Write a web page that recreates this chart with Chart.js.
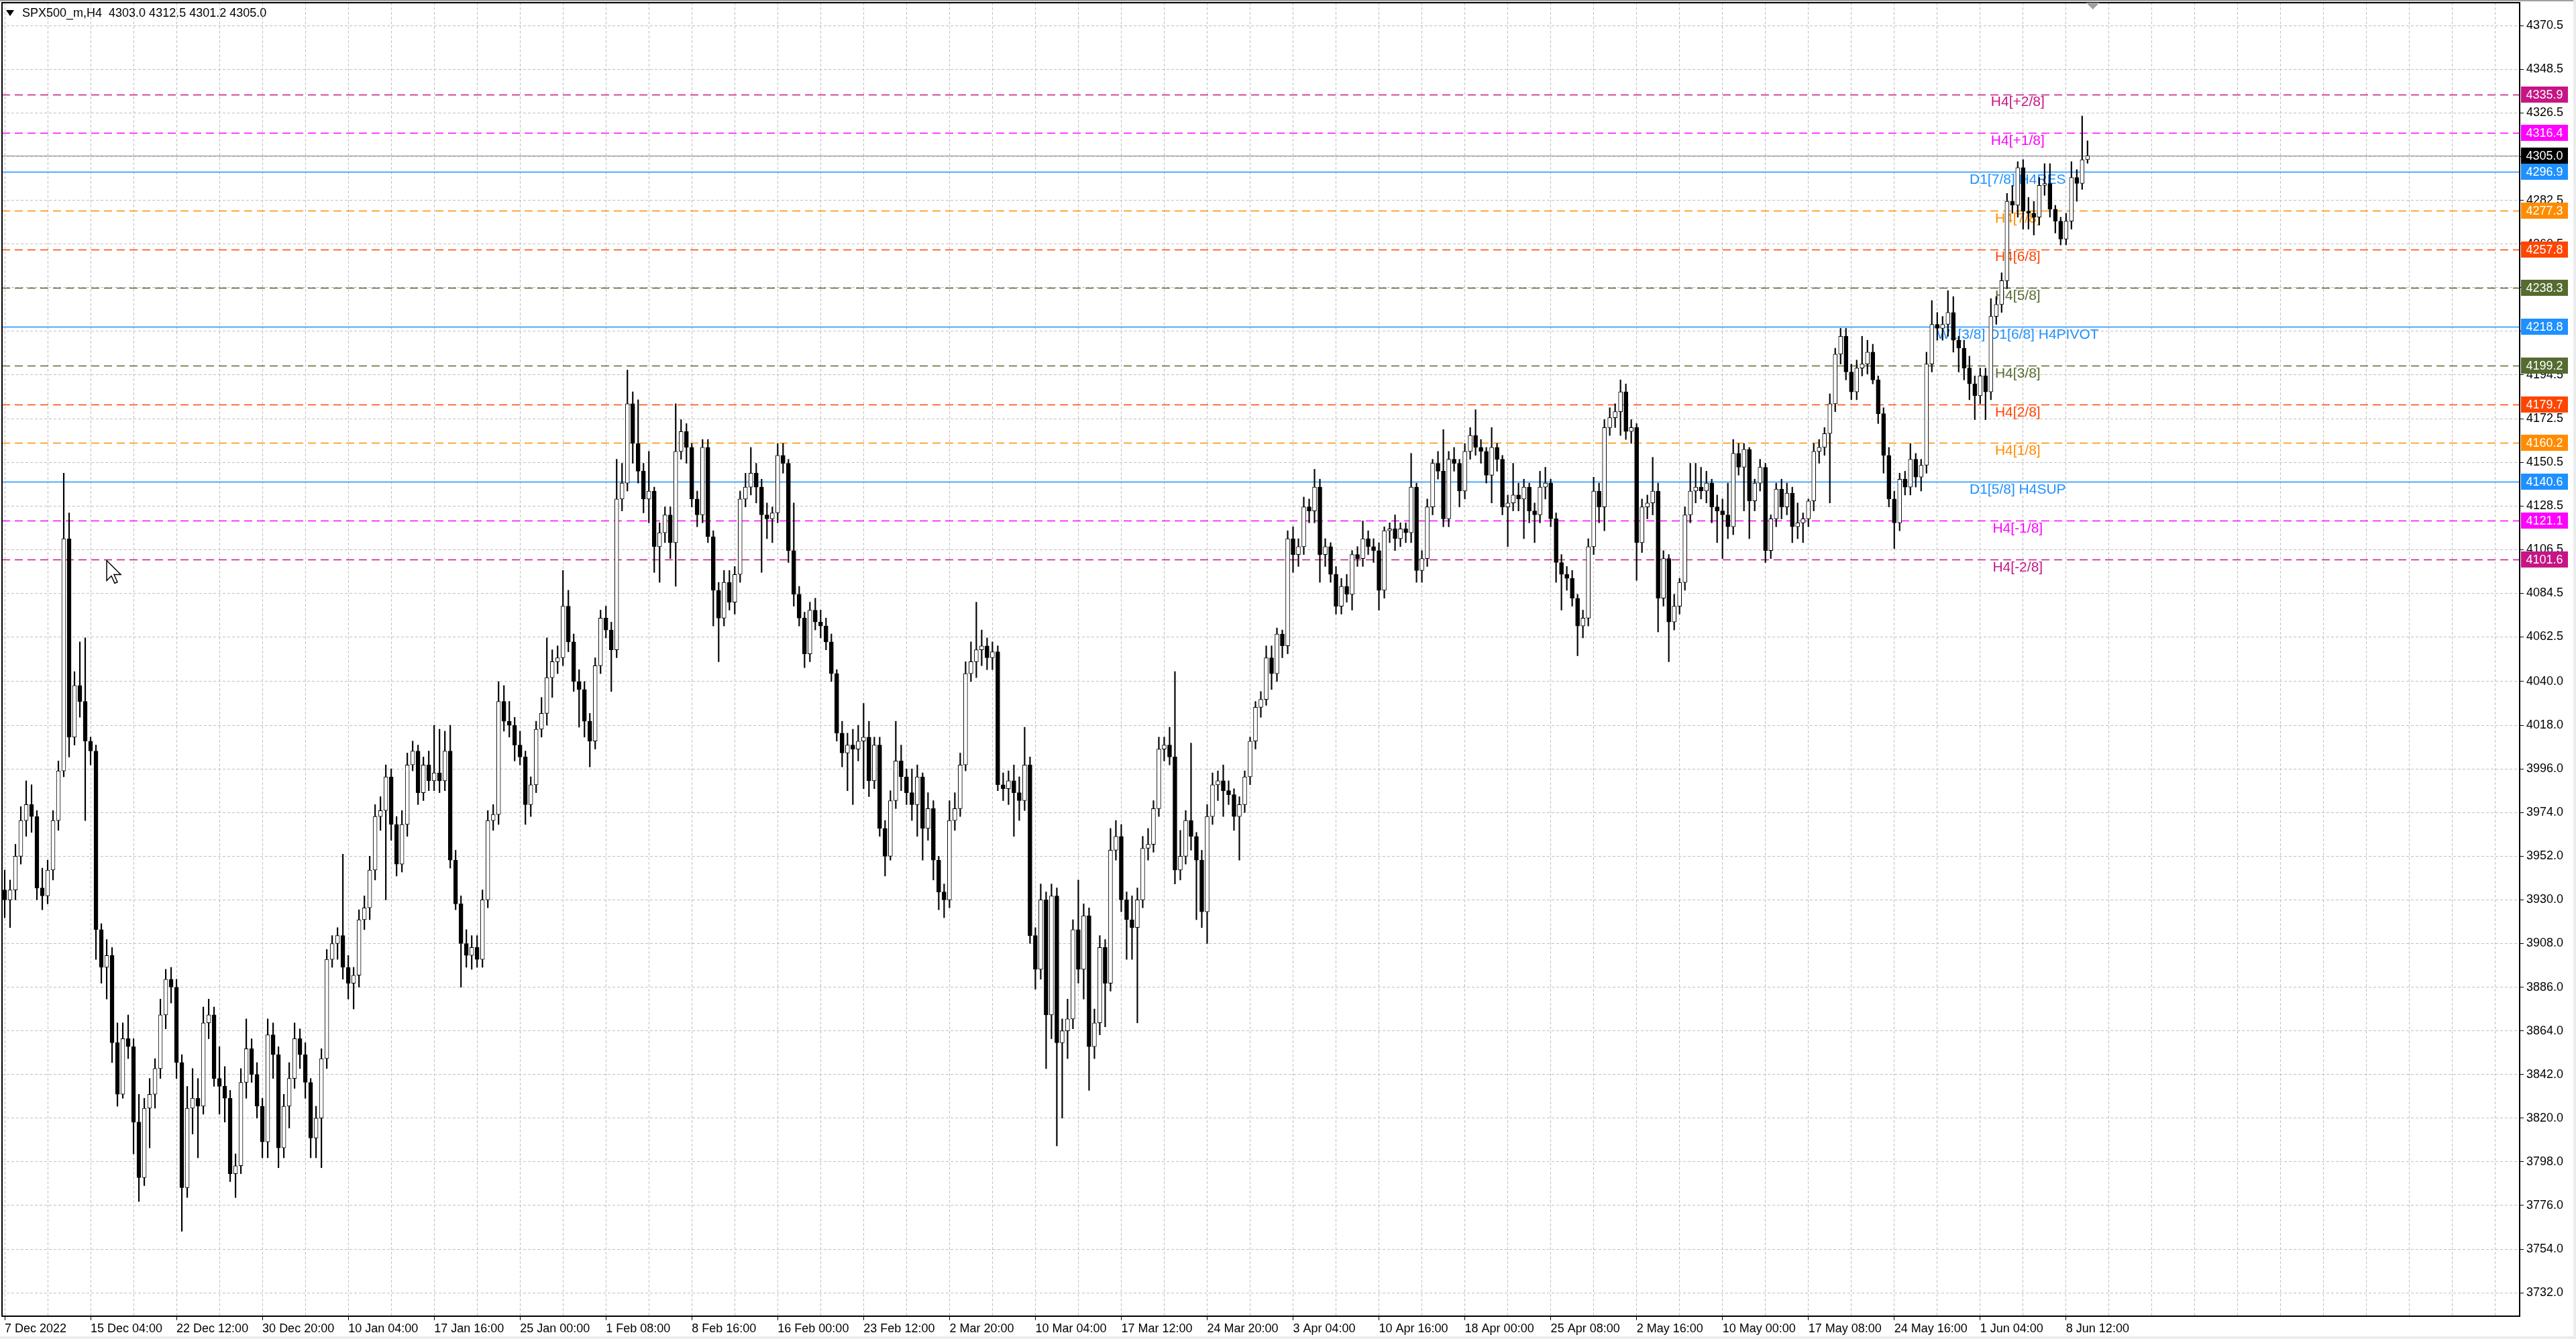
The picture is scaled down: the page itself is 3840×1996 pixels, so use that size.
<!DOCTYPE html>
<html lang="en">
<head>
<meta charset="UTF-8">
<title>SPX500_m,H4</title>
<script src="https://cdn.jsdelivr.net/npm/chart.js"></script>
<style>
    html, body { margin: 0; padding: 0; background: #fff; overflow: hidden; }
    #wrap { width: 3840px; height: 1996px; position: relative; }
</style>
</head>
<body>
<div id="wrap"><canvas id="chart" width="3840" height="1996"></canvas></div>
<script>
const symbol = 'SPX500_m,H4';

// time axis labels, one every 32 real H4 bars (16 drawn candles)
const xLabels = ['7 Dec 2022', '15 Dec 04:00', '22 Dec 12:00', '30 Dec 20:00', '10 Jan 04:00',
    '17 Jan 16:00', '25 Jan 00:00', '1 Feb 08:00', '8 Feb 16:00', '16 Feb 00:00', '23 Feb 12:00',
    '2 Mar 20:00', '10 Mar 04:00', '17 Mar 12:00', '24 Mar 20:00', '3 Apr 04:00', '10 Apr 16:00',
    '18 Apr 00:00', '25 Apr 08:00', '2 May 16:00', '10 May 00:00', '17 May 08:00', '24 May 16:00',
    '1 Jun 04:00', '8 Jun 12:00'];

// price scale ticks as printed on the right axis
const yTicks = [4370.5, 4348.5, 4326.5, 4304.5, 4282.5, 4260.5, 4238.5, 4216.5, 4194.5, 4172.5,
    4150.5, 4128.5, 4106.5, 4084.5, 4062.5, 4040.0, 4018.0, 3996.0, 3974.0, 3952.0, 3930.0, 3908.0,
    3886.0, 3864.0, 3842.0, 3820.0, 3798.0, 3776.0, 3754.0, 3732.0];

// candles
const opens = [
    3935,3930,3935,3952,3970,3978,3972,3936,3932,3945,
    3970,3995,4112,4012,4038,4030,4010,4005,3915,3896,
    3902,3858,3832,3860,3856,3818,3790,3825,3832,3845,
    3872,3890,3886,3848,3785,3825,3830,3826,3868,3872,
    3840,3836,3830,3792,3796,3838,3855,3842,3826,3808,
    3862,3852,3805,3826,3840,3860,3852,3838,3810,3820,
    3850,3900,3908,3912,3896,3888,3892,3920,3926,3945,
    3972,3975,3992,3968,3948,3968,3998,4005,3984,3998,
    3990,3994,3990,4005,3950,3928,3908,3902,3906,3900,
    3930,3970,3973,4030,4020,4018,4008,4002,3978,3988,
    4016,4024,4042,4050,4052,4078,4060,4040,4036,4020,
    4010,4048,4072,4066,4056,4132,4140,4180,4160,4146,
    4132,4136,4108,4115,4124,4110,4156,4166,4158,4132,
    4124,4158,4113,4086,4072,4090,4080,4094,4132,4138,
    4145,4138,4124,4122,4125,4154,4150,4106,4084,4072,
    4054,4076,4070,4068,4060,4044,4014,4004,4008,4006,
    4010,4012,3990,4008,3966,3952,3980,4000,3992,3984,
    3978,3992,3966,3976,3950,3934,3930,3970,3976,3998,
    4044,4050,4056,4058,4052,4055,3988,3986,3990,3984,
    3980,3998,3912,3895,3930,3872,3932,3858,3864,3870,
    3915,3895,3922,3856,3868,3906,3888,3955,3962,3930,
    3920,3916,3930,3956,3958,3976,4006,4008,4002,3945,
    3952,3970,3962,3950,3924,3972,3988,3990,3985,3983,
    3972,3978,3992,4010,4027,4031,4052,4044,4064,4058,
    4112,4104,4108,4128,4126,4138,4104,4108,4094,4078,
    4088,4084,4104,4102,4112,4108,4106,4086,4116,4117,
    4112,4117,4115,4138,4096,4102,4128,4150,4146,4122,
    4152,4150,4136,4156,4164,4158,4156,4144,4158,4152,
    4128,4130,4134,4132,4138,4126,4124,4138,4140,4122,
    4100,4094,4092,4082,4068,4072,4108,4136,4128,4168,
    4173,4176,4186,4166,4168,4110,4128,4130,4136,4082,
    4102,4070,4078,4090,4124,4136,4138,4136,4140,4128,
    4126,4124,4118,4155,4148,4157,4131,4140,4148,4106,
    4122,4137,4128,4135,4118,4120,4122,4131,4156,4158,
    4165,4180,4205,4214,4196,4186,4198,4200,4206,4192,
    4175,4154,4132,4120,4142,4138,4152,4143,4149,4200,
    4220,4218,4220,4226,4212,4208,4198,4190,4184,4194,
    4186,4224,4230,4242,4282,4280,4299,4277,4276,4274,
    4290,4291,4278,4272,4263,4272,4294,4291,4303.0];

const highs = [
    3945,3940,3958,3977,3990,3988,3975,3946,3950,3975,
    4000,4145,4125,4045,4060,4062,4012,4008,3918,3910,
    3906,3868,3868,3872,3860,3832,3830,3840,3850,3880,
    3895,3896,3890,3852,3836,3845,3840,3876,3880,3876,
    3856,3846,3834,3802,3845,3870,3860,3848,3830,3870,
    3868,3856,3832,3848,3868,3865,3858,3840,3826,3855,
    3905,3912,3916,3953,3902,3896,3925,3932,3952,3978,
    3982,3998,3996,3972,3975,4004,4010,4008,4002,4005,
    4018,4016,4015,4018,3955,3932,3915,3912,3912,3935,
    3975,3978,4040,4038,4030,4022,4015,4005,3992,4020,
    4032,4062,4056,4058,4096,4086,4064,4046,4040,4024,
    4052,4076,4078,4070,4152,4150,4197,4186,4182,4150,
    4156,4138,4120,4128,4128,4180,4172,4170,4160,4136,
    4162,4162,4116,4090,4096,4096,4098,4136,4145,4158,
    4150,4142,4130,4128,4160,4160,4152,4130,4088,4075,
    4080,4082,4076,4072,4064,4046,4020,4014,4016,4018,
    4029,4020,4012,4012,3970,3985,4020,4008,3996,3996,
    3998,3994,3984,3980,3952,3938,3980,3984,4004,4050,
    4060,4080,4066,4062,4060,4058,3994,3995,3998,3992,
    4017,4002,3916,3938,3934,3938,3936,3870,3880,3920,
    3940,3928,3926,3875,3912,3910,3966,3970,3968,3934,
    3932,3936,3962,3966,3980,4012,4012,4017,4045,3965,
    3975,4009,3964,3955,3978,3994,3995,3998,3990,3986,
    3982,3995,4012,4030,4035,4058,4058,4067,4066,4116,
    4118,4112,4133,4132,4147,4142,4112,4110,4098,4092,
    4094,4106,4108,4121,4116,4112,4110,4118,4120,4124,
    4120,4120,4155,4140,4106,4132,4152,4156,4167,4156,
    4158,4152,4160,4168,4177,4162,4158,4168,4160,4154,
    4134,4150,4140,4142,4140,4130,4146,4148,4142,4125,
    4104,4098,4096,4084,4076,4112,4143,4140,4172,4178,
    4180,4192,4190,4172,4170,4132,4134,4153,4140,4106,
    4104,4084,4092,4128,4150,4150,4148,4146,4142,4134,
    4132,4140,4162,4160,4160,4158,4142,4152,4150,4124,
    4140,4142,4140,4138,4130,4125,4132,4160,4162,4168,
    4185,4208,4218,4218,4200,4202,4214,4212,4210,4194,
    4178,4158,4136,4145,4146,4160,4155,4152,4206,4232,
    4226,4224,4237,4234,4214,4212,4204,4194,4198,4198,
    4233,4234,4246,4286,4290,4302,4303,4284,4282,4294,
    4301,4301,4280,4274,4276,4302,4298,4325,4312.5];

const lows = [
    3921,3916,3930,3948,3962,3964,3930,3925,3928,3940,
    3965,3992,4002,4008,4022,3970,3998,3900,3888,3880,
    3848,3826,3830,3850,3802,3778,3786,3805,3825,3840,
    3865,3878,3840,3763,3780,3812,3800,3822,3860,3836,
    3822,3818,3788,3780,3792,3830,3838,3820,3800,3800,
    3840,3795,3800,3815,3835,3845,3830,3800,3800,3795,
    3845,3896,3900,3890,3880,3875,3886,3915,3920,3940,
    3965,3930,3960,3942,3944,3962,3995,3978,3980,3985,
    3985,3984,3985,3946,3925,3886,3896,3895,3896,3896,
    3926,3965,3968,4015,4012,4000,3998,3968,3972,3984,
    4012,4018,4032,4044,4048,4055,4035,4017,4012,3997,
    4006,4044,4062,4035,4052,4126,4136,4150,4140,4125,
    4120,4095,4090,4110,4102,4088,4152,4150,4128,4118,
    4120,4110,4068,4050,4068,4076,4074,4090,4128,4134,
    4130,4095,4112,4110,4120,4145,4100,4078,4068,4047,
    4050,4066,4062,4056,4040,4010,3997,3985,3978,4000,
    3986,3982,3986,3962,3942,3950,3976,3985,3978,3970,
    3962,3950,3960,3940,3925,3921,3926,3965,3972,3995,
    4040,4042,4048,4046,4046,3985,3980,3978,3962,3970,
    3975,3908,3885,3890,3845,3860,3806,3820,3850,3865,
    3888,3880,3834,3850,3862,3866,3884,3950,3924,3900,
    3900,3868,3926,3950,3954,3972,4000,3998,3938,3940,
    3948,3955,3920,3916,3908,3968,3980,3972,3978,3965,
    3950,3974,3988,4006,4022,4028,4036,4040,4052,4054,
    4095,4098,4104,4120,4120,4090,4098,4090,4074,4074,
    4080,4076,4098,4098,4104,4100,4076,4082,4110,4106,
    4108,4110,4110,4090,4090,4098,4124,4142,4118,4118,
    4146,4128,4132,4152,4154,4150,4140,4130,4146,4124,
    4108,4126,4126,4112,4120,4110,4120,4132,4118,4090,
    4076,4086,4078,4053,4062,4068,4104,4120,4116,4164,
    4168,4164,4162,4160,4091,4105,4122,4124,4065,4078,
    4050,4066,4074,4086,4120,4130,4132,4130,4120,4110,
    4102,4112,4114,4144,4126,4112,4126,4136,4100,4102,
    4118,4122,4124,4110,4112,4110,4118,4126,4150,4154,
    4130,4176,4200,4192,4182,4182,4194,4195,4190,4170,
    4145,4128,4107,4116,4134,4134,4138,4136,4145,4196,
    4212,4212,4214,4206,4196,4192,4182,4172,4180,4172,
    4182,4220,4226,4238,4276,4274,4268,4268,4265,4270,
    4285,4274,4266,4260,4260,4268,4282,4288,4301.2];

const closes = [
    3930,3935,3952,3970,3978,3972,3936,3932,3945,3970,
    3995,4112,4012,4038,4030,4010,4005,3915,3896,3902,
    3858,3832,3860,3856,3818,3790,3825,3832,3845,3872,
    3890,3886,3848,3785,3825,3830,3826,3868,3872,3840,
    3836,3830,3792,3796,3838,3855,3842,3826,3808,3862,
    3852,3805,3826,3840,3860,3852,3838,3810,3820,3850,
    3900,3908,3912,3896,3888,3892,3920,3926,3945,3972,
    3975,3992,3968,3948,3968,3998,4005,3984,3998,3990,
    3994,3990,4005,3950,3928,3908,3902,3906,3900,3930,
    3970,3973,4030,4020,4018,4008,4002,3978,3988,4016,
    4024,4042,4050,4052,4078,4060,4040,4036,4020,4010,
    4048,4072,4066,4056,4132,4140,4180,4160,4146,4132,
    4136,4108,4115,4124,4110,4156,4166,4158,4132,4124,
    4158,4113,4086,4072,4090,4080,4094,4132,4138,4145,
    4138,4124,4122,4125,4154,4150,4106,4084,4072,4054,
    4076,4070,4068,4060,4044,4014,4004,4008,4006,4010,
    4012,3990,4008,3966,3952,3980,4000,3992,3984,3978,
    3992,3966,3976,3950,3934,3930,3970,3976,3998,4044,
    4050,4056,4058,4052,4055,3988,3986,3990,3984,3980,
    3998,3912,3895,3930,3872,3932,3858,3864,3870,3915,
    3895,3922,3856,3868,3906,3888,3955,3962,3930,3920,
    3916,3930,3956,3958,3976,4006,4008,4002,3945,3952,
    3970,3962,3950,3924,3972,3988,3990,3985,3983,3972,
    3978,3992,4010,4027,4031,4052,4044,4064,4058,4112,
    4104,4108,4128,4126,4138,4104,4108,4094,4078,4088,
    4084,4104,4102,4112,4108,4106,4086,4116,4117,4112,
    4117,4115,4138,4096,4102,4128,4150,4146,4122,4152,
    4150,4136,4156,4164,4158,4156,4144,4158,4152,4128,
    4130,4134,4132,4138,4126,4124,4138,4140,4122,4100,
    4094,4092,4082,4068,4072,4108,4136,4128,4168,4173,
    4176,4186,4166,4168,4110,4128,4130,4136,4082,4102,
    4070,4078,4090,4124,4136,4138,4136,4140,4128,4126,
    4124,4118,4155,4148,4157,4131,4140,4148,4106,4122,
    4137,4128,4135,4118,4120,4122,4131,4156,4158,4165,
    4180,4205,4214,4196,4186,4198,4200,4206,4192,4175,
    4154,4132,4120,4142,4138,4152,4143,4149,4200,4220,
    4218,4220,4226,4212,4208,4198,4190,4184,4194,4186,
    4224,4230,4242,4282,4280,4299,4277,4276,4274,4290,
    4291,4278,4272,4263,4272,4294,4291,4303,4305.0];

// Murrey math levels drawn as horizontal lines
const levelValues = [4335.9, 4316.4, 4296.9, 4277.3, 4257.8, 4238.3, 4218.8, 4199.2, 4179.7, 4160.2, 4140.6, 4121.1, 4101.6];
const levelNames = ['H4[+2/8]', 'H4[+1/8]', 'D1[7/8] H4RES', 'H4[7/8]', 'H4[6/8]', 'H4[5/8]',
    'W1[3/8] D1[6/8] H4PIVOT', 'H4[3/8]', 'H4[2/8]', 'H4[1/8]', 'D1[5/8] H4SUP', 'H4[-1/8]', 'H4[-2/8]'];
const levelColors = ['#c71585', '#ff00ff', '#1e90ff', '#ff8c00', '#ff4500', '#556b2f',
    '#1e90ff', '#556b2f', '#ff4500', '#ff8c00', '#1e90ff', '#ff00ff', '#c71585'];
const levelSolid = [false, false, true, false, false, false, true, false, false, false, true, false, false];

const lastPrice = closes[closes.length - 1];

// layout of the terminal window
const FONT = '"Liberation Sans", Arial, sans-serif';
const GRID = '#c0c0c0';
const slotCount = 469;      // bar slots across the plot width
const labelEvery = 16;      // candles per time label
const gridEvery = 8;        // candles per vertical grid line
const textIndex = 375;      // candle under the level texts
const yMin = 3720.2, yMax = 4382.1;

const categories = Array.from({length: slotCount}, (_, i) =>
    (i % labelEvery === 0 && xLabels[i / labelEvery]) ? xLabels[i / labelEvery] : '');

const bodyData = opens.map((o, i) => [o, closes[i]]);
const wickData = lows.map((l, i) => [l, highs[i]]);

const mt4Plugin = {
    id: 'mt4',
    beforeDatasetsDraw(chart) {
        const {ctx, chartArea: a, scales: {x, y}} = chart;
        ctx.save();
        // bid line
        let py = Math.round(y.getPixelForValue(lastPrice)) + 0.5;
        ctx.strokeStyle = '#a8a8a8';
        ctx.lineWidth = 1.5;
        ctx.beginPath(); ctx.moveTo(a.left, py); ctx.lineTo(a.right, py); ctx.stroke();

        levelValues.forEach((v, i) => {
            py = Math.round(y.getPixelForValue(v)) + 0.5;
            ctx.strokeStyle = levelColors[i];
            ctx.lineWidth = 1.6;
            ctx.setLineDash(levelSolid[i] ? [] : [12, 7]);
            ctx.beginPath(); ctx.moveTo(a.left, py); ctx.lineTo(a.right, py); ctx.stroke();
        });
        ctx.setLineDash([]);

        ctx.font = '21px ' + FONT;
        ctx.textAlign = 'center';
        ctx.textBaseline = 'middle';
        const tx = x.getPixelForValue(textIndex);
        levelValues.forEach((v, i) => {
            ctx.fillStyle = levelColors[i];
            ctx.fillText(levelNames[i], tx, y.getPixelForValue(v) + 12);
        });
        ctx.restore();
    },
    afterDraw(chart) {
        const {ctx, chartArea: a, scales: {x, y}} = chart;
        const last = closes.length - 1;
        ctx.save();

        // frame
        ctx.strokeStyle = '#000';
        ctx.lineWidth = 2;
        ctx.strokeRect(a.left, a.top, a.right - a.left, a.bottom - a.top);

        // window edges
        ctx.fillStyle = '#a0a0a0';
        ctx.fillRect(0, 0, chart.width, 2);
        ctx.fillStyle = '#ececec';
        ctx.fillRect(chart.width - 4, 0, 4, chart.height);
        ctx.fillRect(0, chart.height - 4, chart.width, 4);

        // chart shift marker
        const sx = x.getPixelForValue(last + 1);
        ctx.fillStyle = '#a0a0a0';
        ctx.beginPath();
        ctx.moveTo(sx - 10, a.top); ctx.lineTo(sx + 10, a.top); ctx.lineTo(sx, a.top + 10);
        ctx.closePath(); ctx.fill();

        // mouse pointer left in the screenshot
        const mx = x.getPixelForValue(19), my = y.getPixelForValue(4101);
        ctx.fillStyle = '#fff';
        ctx.strokeStyle = '#000';
        ctx.lineWidth = 1.5;
        ctx.beginPath();
        ctx.moveTo(mx, my); ctx.lineTo(mx, my + 30); ctx.lineTo(mx + 7, my + 23);
        ctx.lineTo(mx + 12, my + 34); ctx.lineTo(mx + 16, my + 32); ctx.lineTo(mx + 11, my + 21);
        ctx.lineTo(mx + 21, my + 21); ctx.closePath();
        ctx.fill(); ctx.stroke();

        // title
        ctx.fillStyle = '#000';
        ctx.beginPath();
        ctx.moveTo(a.left + 6, 15); ctx.lineTo(a.left + 18, 15); ctx.lineTo(a.left + 12, 24);
        ctx.closePath(); ctx.fill();
        ctx.font = '18px ' + FONT;
        ctx.textAlign = 'left';
        ctx.textBaseline = 'middle';
        ctx.fillText(symbol + '  ' + [opens[last], highs[last], lows[last], closes[last]]
            .map(v => v.toFixed(1)).join(' '), a.left + 30, 20);

        // price boxes on the right axis
        const drawBox = (v, color) => {
            const py = y.getPixelForValue(v);
            ctx.fillStyle = color;
            ctx.fillRect(a.right + 2, Math.round(py) - 12, 70, 24);
            ctx.fillStyle = '#fff';
            ctx.textAlign = 'center';
            ctx.fillText(v.toFixed(1), a.right + 37, py + 1);
        };
        levelValues.forEach((v, i) => drawBox(v, levelColors[i]));
        drawBox(lastPrice, '#000');
        ctx.restore();
    }
};

new Chart(document.getElementById('chart'), {
    type: 'bar',
    data: {
        labels: categories,
        datasets: [
            {
                label: 'bodies',
                data: bodyData,
                barThickness: 6,
                grouped: false,
                order: 0,
                borderColor: '#000',
                borderWidth: 1,
                borderSkipped: false,
                backgroundColor: c => closes[c.dataIndex] >= opens[c.dataIndex] ? '#ffffff' : '#000000'
            },
            {
                label: 'wicks',
                data: wickData,
                barThickness: 1.5,
                grouped: false,
                order: 1,
                borderWidth: 0,
                backgroundColor: '#000'
            }
        ]
    },
    options: {
        responsive: false,
        devicePixelRatio: 1,
        animation: false,
        events: [],
        layout: { padding: { left: 3, top: 4, right: 0, bottom: 0 } },
        plugins: {
            legend: { display: false },
            tooltip: { enabled: false }
        },
        scales: {
            x: {
                type: 'category',
                offset: true,
                grid: {
                    offset: false,
                    lineWidth: 1,
                    color: c => c.index % gridEvery === 0 ? GRID : 'transparent',
                    tickLength: 6,
                    tickColor: c => (c.index % labelEvery === 0 && c.index / labelEvery < xLabels.length) ? '#000' : 'transparent',
                    tickBorderDash: []
                },
                border: { color: '#000', width: 2, dash: [4, 3] },
                ticks: {
                    autoSkip: false,
                    maxRotation: 0,
                    minRotation: 0,
                    align: 'start',
                    padding: 2,
                    color: '#000',
                    font: { family: FONT, size: 18 }
                },
                afterFit: s => { s.height = 34; s.paddingLeft = 0; s.paddingRight = 0; }
            },
            y: {
                position: 'right',
                min: yMin,
                max: yMax,
                afterBuildTicks: s => { s.ticks = yTicks.map(v => ({ value: v })); },
                grid: { color: GRID, lineWidth: 1, tickLength: 6, tickColor: '#000', tickBorderDash: [] },
                border: { color: '#000', width: 2, dash: [4, 3] },
                ticks: {
                    padding: 4,
                    color: '#000',
                    font: { family: FONT, size: 18 },
                    callback: v => Number(v).toFixed(1)
                },
                afterFit: s => { s.width = 84; s.paddingTop = 0; s.paddingBottom = 0; }
            }
        }
    },
    plugins: [mt4Plugin]
});
</script>
</body>
</html>
